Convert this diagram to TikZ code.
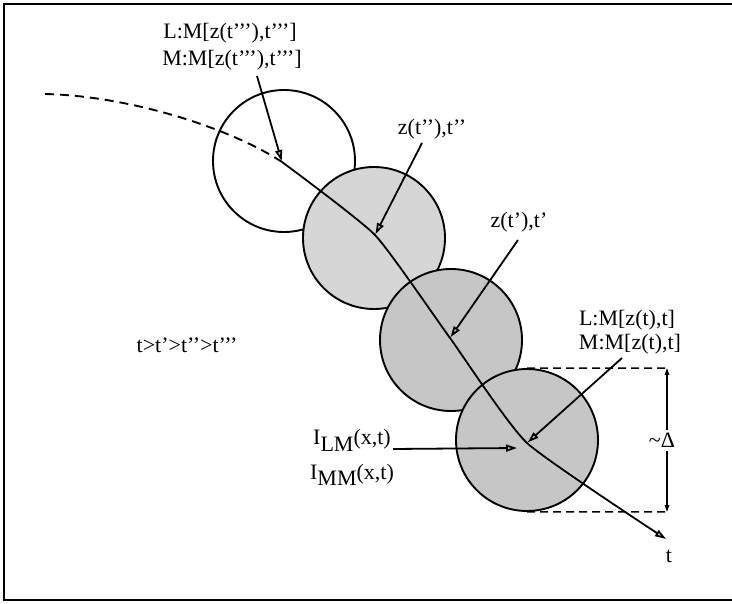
\documentclass[tikz,border=0pt]{standalone}
\usepackage{fontspec}
\setmainfont{Liberation Serif}
\usetikzlibrary{arrows.meta}
\begin{document}
\begin{tikzpicture}[x=1pt,y=-1pt,
  lab/.style={font=\fontsize{22}{25}\selectfont, inner sep=0pt, anchor=base},
  circ/.style={circle, draw, line width=1.9pt, minimum size=142pt, inner sep=0pt},
  tip/.style={-{Triangle[length=11pt,width=7pt,fill=gray!45]}},
  ptr/.style={line width=1.8pt, tip, shorten >=1pt},
  dimline/.style={line width=1.5pt, -{Triangle[length=7pt,width=4.5pt]}},
  boxline/.style={line width=1.5pt, dash pattern=on 8pt off 5pt}]
\useasboundingbox (0,0) rectangle (732,604);
% frame
\draw[line width=2.4pt] (732,4) -- (4,4) -- (4,600) -- (732,600);
% circles
\node[circ, fill=white]   (c1) at (284,161) {};
\node[circ, fill=gray!32] (c2) at (374,238) {};
\node[circ, fill=gray!45] (c3) at (451,340) {};
\node[circ, fill=gray!45] (c4) at (527,440) {};
% path points
\coordinate (s0) at (45,94);
\coordinate (p1) at (282,162);
\coordinate (p2) at (375,235);
\coordinate (p3) at (450,338);
\coordinate (p4) at (527,443);
\coordinate (pe) at (666,539);
% trajectory
\draw[line width=1.9pt, dash pattern=on 9pt off 6pt] (s0) .. controls (130,96) and (230,128) .. (p1);
\draw[line width=1.8pt, tip] plot[smooth, tension=0.3] coordinates {(p1) (p2) (p3) (p4) (pe)};
% labels
\node[lab] (l3a) at (230,39) {L:M[z(t’’’),t’’’]};
\node[lab] (l3b) at (232,66) {M:M[z(t’’’),t’’’]};
\node[lab] (l2) at (432,135) {z(t’’),t’’};
\node[lab] (l1) at (519,228) {z(t’),t’};
\node[lab] (l0a) at (627,326) {L:M[z(t),t]};
\node[lab] (l0b) at (630,350) {M:M[z(t),t]};
\node[lab] (ord) at (187,353) {t>t’>t’’>t’’’};
\node[lab] (ilm) at (352,445) {I\raisebox{-6pt}{LM}(x,t)};
\node[lab] (imm) at (352,479) {I\raisebox{-6pt}{MM}(x,t)};
\node[lab, fill=white, inner ysep=3pt] (dl) at (662,448) {\textasciitilde Δ};
\node[lab] (tl) at (669,562) {t};
% pointer arrows
\coordinate (a3) at (257,76);
\coordinate (a2) at (422,143);
\coordinate (a1) at (518,240);
\coordinate (a0) at (622,358);
\coordinate (ai) at (393,449);
\coordinate (pi) at (518,448);
\draw[ptr] (a3) -- (p1);
\draw[ptr] (a2) -- (p2);
\draw[ptr] (a1) -- (p3);
\draw[ptr] (a0) -- (p4);
\draw[ptr] (ai) -- (pi);
% dashed box and Delta
\coordinate (bt) at (667,368);
\coordinate (bb) at (667,512);
\draw[boxline] (c4.north) -- (bt);
\draw[boxline] (c4.south) -- (bb);
\draw[dimline] (dl.north -| bt) -- (bt);
\draw[dimline] (dl.south -| bb) -- (bb);
\end{tikzpicture}
\end{document}
